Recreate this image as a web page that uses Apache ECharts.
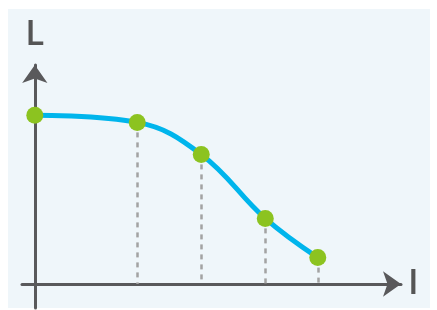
<!DOCTYPE html>
<html><head><meta charset="utf-8">
<script src="https://cdn.jsdelivr.net/npm/echarts@6/dist/echarts.min.js"></script>
<style>
html,body{margin:0;padding:0;background:#ffffff;}
#panel{position:absolute;left:8px;top:9px;width:422px;height:299px;background:#eff6fa;}
#main{position:absolute;left:0;top:0;width:437px;height:310px;}
</style></head>
<body><div id="panel"></div><div id="main"></div>
<script>
const xName = 'I';
const yName = 'L';
const xValues = [0, 1.6, 2.6, 3.6, 4.42];
const yValues = [4.22, 4.04, 3.24, 1.64, 0.66];

const points = xValues.map((x, i) => [x, yValues[i]]);
const drops = xValues.slice(1).map((x, i) => [{coord: [x, yValues[i + 1]]}, {coord: [x, 0]}]);

const chart = echarts.init(document.getElementById('main'), null, {renderer: 'canvas'});
const axisColor = '#59595b';
chart.setOption({
  backgroundColor: 'transparent',
  animation: false,
  grid: {left: 22, right: 36, top: 65, bottom: 2},
  xAxis: {
    type: 'value', min: -0.2, max: 5.72,
    name: xName, nameLocation: 'end', nameGap: 7,
    nameTextStyle: {fontFamily: 'Open Sans', fontSize: 35, fontWeight: 600, color: '#555555', verticalAlign: 'middle'},
    axisLine: {onZero: true, symbol: ['none', 'arrow'], symbolSize: [19, 18], lineStyle: {color: axisColor, width: 3}},
    axisTick: {show: false}, axisLabel: {show: false}, splitLine: {show: false}
  },
  yAxis: {
    type: 'value', min: -0.6, max: 5.475,
    name: yName, nameLocation: 'end', nameGap: 12,
    nameTextStyle: {fontFamily: 'Open Sans', fontSize: 35, fontWeight: 600, color: '#555555'},
    axisLine: {onZero: true, symbol: ['none', 'arrow'], symbolSize: [19, 18], lineStyle: {color: axisColor, width: 3}},
    axisTick: {show: false}, axisLabel: {show: false}, splitLine: {show: false}
  },
  series: [{
    type: 'line',
    data: points,
    smooth: 0.4,
    symbol: 'circle',
    symbolSize: 17,
    itemStyle: {color: '#8cc320'},
    lineStyle: {color: '#00b5ec', width: 5},
    markLine: {
      silent: true,
      symbol: ['none', 'none'],
      label: {show: false},
      lineStyle: {color: '#a3a3a3', width: 2.5, type: [5, 5]},
      data: drops,
      z: 1
    },
    z: 3
  }]
});
</script></body></html>
